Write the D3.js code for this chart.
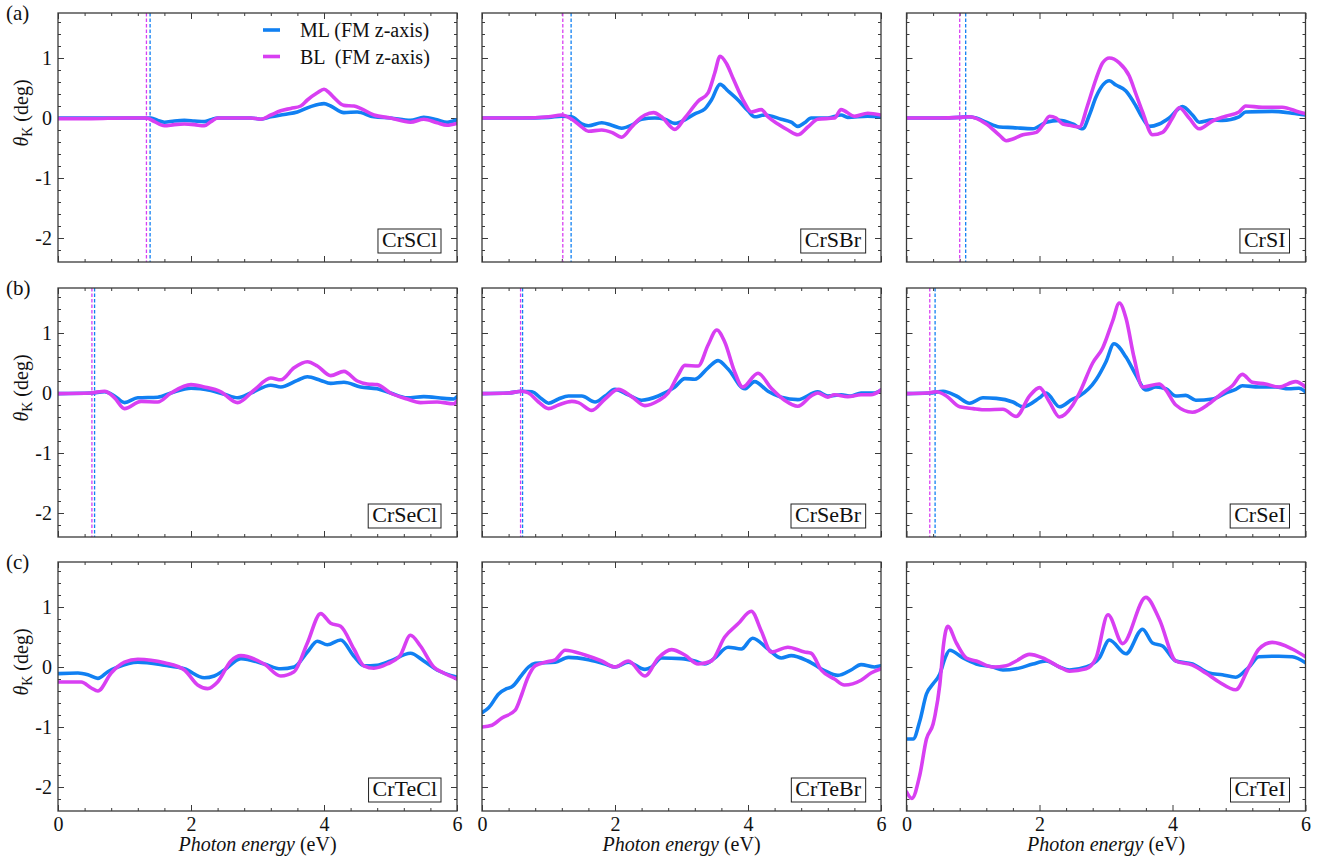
<!DOCTYPE html>
<html>
<head>
<meta charset="utf-8">
<title>Kerr rotation</title>
<script src="https://cdnjs.cloudflare.com/ajax/libs/d3/7.8.5/d3.min.js"></script>
<style>
    body { margin: 0; background: #ffffff; }
    #kerr-grid text { font-family: "Liberation Serif", "Times New Roman", serif; fill: #111; }
    .frame { fill: none; stroke: #3a3a3a; stroke-width: 1.3; }
    .axis path.domain { display: none; }
    .axis line { stroke: #3a3a3a; stroke-width: 1; }
    .axis text { font-size: 20px; }
    .kerr-line { fill: none; stroke-width: 3.6; stroke-linejoin: round; stroke-linecap: round; }
    .gap-line { stroke-width: 1.3; stroke-dasharray: 3.5,2; }
</style>
</head>
<body>
<div id="kerr-grid"></div>
<script>

// ====== Data: [photon energy (eV), theta_K (deg)] ======//
var compounds = ["CrSCl", "CrSBr", "CrSI", "CrSeCl", "CrSeBr", "CrSeI", "CrTeCl", "CrTeBr", "CrTeI"];
var rowLetters = ["(a)", "(b)", "(c)"];
var seriesNames = ["ML (FM z-axis)", "BL  (FM z-axis)"];
var xTickValues = [0, 2, 4, 6];
var yTickValues = [-2, -1, 0, 1];

// band-gap markers (dashed lines), null = none drawn
var mlGap = [1.385, 1.34, 0.89, 0.55, 0.61, 0.43, null, null, null];
var blGap = [1.33, 1.215, 0.80, 0.51, 0.58, 0.35, null, null, null];

var mlCrSCl = [[0,0],[0.5,0],[1.0,0],[1.3,0],[1.4,0],[1.5,-0.04],[1.6,-0.07],[1.75,-0.05],[1.9,-0.04],[2.05,-0.05],[2.2,-0.06],[2.3,-0.03],[2.4,0],[2.7,0],[2.9,0],[3.05,-0.02],[3.2,0.02],[3.4,0.06],[3.6,0.1],[3.8,0.19],[4.0,0.24],[4.1,0.2],[4.3,0.09],[4.5,0.1],[4.75,0.02],[5.0,0],[5.3,-0.04],[5.5,0.01],[5.7,-0.03],[5.85,-0.07],[6.0,-0.03]];
var blCrSCl = [[0,-0.01],[0.5,-0.01],[1.0,0],[1.33,0],[1.45,-0.06],[1.6,-0.13],[1.75,-0.11],[1.9,-0.1],[2.05,-0.11],[2.2,-0.13],[2.3,-0.06],[2.4,0],[2.7,0],[2.9,0],[3.05,-0.02],[3.2,0.05],[3.35,0.12],[3.5,0.16],[3.65,0.2],[3.75,0.3],[3.9,0.42],[4.0,0.48],[4.08,0.42],[4.15,0.34],[4.3,0.21],[4.45,0.2],[4.55,0.16],[4.75,0.05],[5.0,0],[5.3,-0.07],[5.5,-0.02],[5.7,-0.08],[5.85,-0.12],[6.0,-0.09]];

var mlCrSBr = [[0,0],[0.6,0],[1.0,0.01],[1.2,0.03],[1.35,0.02],[1.5,-0.1],[1.6,-0.13],[1.8,-0.08],[1.95,-0.12],[2.1,-0.17],[2.25,-0.12],[2.4,-0.02],[2.6,0],[2.75,-0.02],[2.9,-0.09],[3.05,-0.03],[3.2,0.07],[3.35,0.15],[3.45,0.3],[3.58,0.56],[3.7,0.45],[3.85,0.3],[4.0,0.12],[4.1,0.02],[4.25,0.05],[4.5,-0.02],[4.65,-0.07],[4.75,-0.14],[4.85,-0.08],[4.95,0],[5.2,0],[5.4,0.05],[5.5,0.01],[5.8,0.03],[6.0,0.02]];
var blCrSBr = [[0,0],[0.6,0],[1.0,0.02],[1.2,0.05],[1.35,-0.02],[1.5,-0.15],[1.6,-0.22],[1.8,-0.2],[1.95,-0.24],[2.1,-0.32],[2.25,-0.15],[2.35,-0.03],[2.45,0.05],[2.58,0.09],[2.7,0.02],[2.9,-0.19],[3.05,0],[3.25,0.28],[3.4,0.42],[3.5,0.75],[3.58,1.03],[3.68,0.9],[3.78,0.65],[3.95,0.25],[4.05,0.1],[4.2,0.14],[4.3,0.02],[4.45,-0.1],[4.6,-0.2],[4.75,-0.28],[4.9,-0.15],[5.05,-0.02],[5.3,0],[5.4,0.14],[5.6,0.03],[5.8,0.08],[6.0,0.05]];

var mlCrSI = [[0,0],[0.5,0],[0.8,0.01],[0.9,0.02],[1.05,0],[1.2,-0.07],[1.4,-0.15],[1.6,-0.16],[1.9,-0.18],[2.1,-0.07],[2.3,-0.04],[2.5,-0.1],[2.65,-0.18],[2.75,0.05],[2.85,0.35],[3.05,0.62],[3.15,0.55],[3.3,0.45],[3.45,0.2],[3.55,0],[3.65,-0.14],[3.8,-0.1],[3.95,0],[4.15,0.19],[4.3,0.05],[4.4,-0.07],[4.6,-0.03],[4.75,-0.04],[5.0,0.02],[5.1,0.1],[5.5,0.11],[5.8,0.08],[6.0,0.05]];
var blCrSI = [[0,0],[0.5,0],[0.8,0.01],[0.95,0.02],[1.2,-0.1],[1.4,-0.29],[1.5,-0.38],[1.6,-0.35],[1.75,-0.28],[1.95,-0.24],[2.05,-0.12],[2.15,0.03],[2.25,0],[2.35,-0.1],[2.45,-0.12],[2.6,-0.15],[2.72,0.2],[2.85,0.65],[2.95,0.92],[3.05,1.0],[3.2,0.92],[3.35,0.7],[3.45,0.4],[3.55,0.1],[3.7,-0.28],[3.85,-0.24],[4.0,0],[4.1,0.17],[4.25,0],[4.4,-0.18],[4.6,-0.05],[4.8,0.03],[5.0,0.1],[5.1,0.2],[5.35,0.18],[5.65,0.18],[5.9,0.1],[6.0,0.07]];

var mlCrSeCl = [[0,-0.01],[0.5,0],[0.7,0.02],[0.85,-0.05],[1.0,-0.16],[1.2,-0.08],[1.5,-0.07],[1.7,0],[2.0,0.08],[2.3,0.04],[2.5,-0.02],[2.7,-0.08],[2.9,0],[3.2,0.13],[3.35,0.1],[3.6,0.21],[3.75,0.27],[3.95,0.21],[4.1,0.16],[4.3,0.18],[4.55,0.1],[4.8,0.07],[5.0,0],[5.25,-0.08],[5.5,-0.06],[5.8,-0.09],[5.95,-0.1],[6.0,-0.06]];
var blCrSeCl = [[0,-0.01],[0.5,0],[0.7,0.03],[0.85,-0.08],[1.0,-0.26],[1.25,-0.14],[1.5,-0.15],[1.7,0],[2.0,0.14],[2.2,0.1],[2.45,0.02],[2.7,-0.16],[2.95,0.05],[3.2,0.25],[3.35,0.22],[3.55,0.42],[3.75,0.52],[3.9,0.45],[4.1,0.29],[4.3,0.36],[4.5,0.2],[4.65,0.15],[4.8,0.14],[5.0,0],[5.25,-0.1],[5.45,-0.16],[5.7,-0.15],[5.95,-0.18],[6.0,-0.13]];

var mlCrSeBr = [[0,-0.01],[0.4,0],[0.6,0.03],[0.75,0.02],[0.9,-0.1],[1.0,-0.17],[1.15,-0.1],[1.3,-0.05],[1.5,-0.05],[1.7,-0.15],[1.85,-0.05],[2.0,0.06],[2.2,-0.03],[2.4,-0.12],[2.65,-0.05],[2.9,0.1],[3.05,0.24],[3.2,0.23],[3.4,0.42],[3.55,0.54],[3.7,0.4],[3.95,0.07],[4.1,0.19],[4.3,0.03],[4.5,-0.07],[4.75,-0.11],[5.05,0.02],[5.2,-0.05],[5.4,-0.03],[5.55,-0.05],[5.7,0],[5.9,0],[6.0,0.05]];
var blCrSeBr = [[0,-0.01],[0.4,0],[0.6,0.03],[0.7,0],[0.85,-0.15],[1.0,-0.26],[1.15,-0.2],[1.35,-0.14],[1.45,-0.16],[1.65,-0.29],[1.85,-0.1],[2.05,0.06],[2.25,-0.06],[2.45,-0.21],[2.65,-0.13],[2.8,0],[2.95,0.3],[3.05,0.46],[3.25,0.45],[3.4,0.8],[3.53,1.05],[3.65,0.85],[3.8,0.35],[3.92,0.1],[4.15,0.33],[4.35,0.08],[4.55,-0.12],[4.75,-0.22],[4.95,-0.05],[5.05,0],[5.2,-0.07],[5.3,-0.03],[5.5,-0.06],[5.7,-0.03],[5.85,-0.03],[6.0,0.05]];

var mlCrSeI = [[0,-0.01],[0.35,0],[0.55,0.03],[0.75,-0.05],[0.95,-0.17],[1.15,-0.08],[1.35,-0.09],[1.6,-0.15],[1.75,-0.23],[2.0,-0.08],[2.1,0],[2.3,-0.23],[2.5,-0.1],[2.6,-0.05],[2.85,0.22],[3.0,0.52],[3.12,0.82],[3.3,0.6],[3.45,0.3],[3.6,0.05],[3.75,0.1],[3.9,0.07],[4.05,-0.05],[4.2,-0.04],[4.35,-0.12],[4.6,-0.1],[4.8,0],[4.95,0.06],[5.05,0.12],[5.3,0.1],[5.55,0.1],[5.75,0.07],[5.9,0.08],[6.0,0.02]];
var blCrSeI = [[0,-0.01],[0.3,0],[0.45,0.02],[0.6,-0.05],[0.8,-0.23],[1.0,-0.26],[1.2,-0.28],[1.45,-0.27],[1.65,-0.39],[1.85,-0.05],[2.0,0.09],[2.15,-0.15],[2.3,-0.4],[2.5,-0.2],[2.6,0],[2.8,0.5],[2.95,0.75],[3.1,1.2],[3.2,1.5],[3.3,1.25],[3.42,0.6],[3.55,0.1],[3.8,0.15],[3.9,0.05],[4.05,-0.2],[4.3,-0.32],[4.55,-0.18],[4.75,0],[4.9,0.12],[5.05,0.31],[5.2,0.18],[5.4,0.15],[5.6,0.1],[5.85,0.19],[6.0,0.1]];

var mlCrTeCl = [[0,-0.11],[0.3,-0.1],[0.45,-0.13],[0.6,-0.19],[0.75,-0.08],[0.9,0],[1.2,0.08],[1.6,0.03],[1.9,-0.03],[2.2,-0.18],[2.35,-0.15],[2.5,-0.05],[2.75,0.14],[3.1,0.05],[3.35,-0.03],[3.55,0],[3.75,0.25],[3.9,0.43],[4.05,0.37],[4.25,0.45],[4.45,0.18],[4.6,0.02],[4.8,0.03],[5.0,0.1],[5.3,0.23],[5.5,0.1],[5.7,-0.05],[6.0,-0.17]];
var blCrTeCl = [[0,-0.25],[0.35,-0.25],[0.5,-0.35],[0.6,-0.4],[0.8,-0.1],[1.0,0.08],[1.2,0.13],[1.6,0.07],[1.9,-0.05],[2.1,-0.3],[2.25,-0.36],[2.4,-0.25],[2.6,0.1],[2.75,0.19],[3.1,0.05],[3.35,-0.15],[3.55,-0.08],[3.75,0.4],[3.95,0.89],[4.1,0.73],[4.25,0.68],[4.45,0.3],[4.6,0.02],[4.75,-0.02],[4.95,0.05],[5.15,0.2],[5.3,0.53],[5.45,0.35],[5.65,0],[5.8,-0.1],[6.0,-0.2]];

var mlCrTeBr = [[0,-0.76],[0.1,-0.68],[0.25,-0.45],[0.37,-0.36],[0.45,-0.33],[0.6,-0.13],[0.7,0],[0.8,0.06],[1.1,0.08],[1.3,0.16],[1.6,0.12],[1.85,0.05],[2.0,0],[2.2,0.08],[2.45,-0.04],[2.55,0],[2.7,0.15],[3.0,0.14],[3.2,0.1],[3.35,0.05],[3.5,0.15],[3.7,0.33],[3.9,0.3],[4.07,0.48],[4.3,0.3],[4.5,0.15],[4.65,0.19],[4.9,0.1],[5.15,-0.06],[5.35,-0.14],[5.55,-0.05],[5.7,0.04],[5.9,0],[6.0,0.02]];
var blCrTeBr = [[0,-1.0],[0.15,-0.97],[0.3,-0.85],[0.5,-0.72],[0.6,-0.45],[0.68,-0.2],[0.8,0.02],[0.95,0.08],[1.1,0.12],[1.25,0.28],[1.55,0.2],[1.8,0.1],[2.0,0],[2.2,0.1],[2.45,-0.15],[2.65,0.15],[2.85,0.29],[3.05,0.2],[3.25,0.05],[3.45,0.1],[3.65,0.5],[3.85,0.72],[4.05,0.93],[4.2,0.6],[4.35,0.25],[4.6,0.33],[4.85,0.25],[4.95,0.23],[5.1,-0.05],[5.3,-0.2],[5.45,-0.3],[5.7,-0.22],[5.85,-0.1],[6.0,-0.03]];

var mlCrTeI = [[0,-1.2],[0.1,-1.2],[0.2,-0.9],[0.3,-0.45],[0.4,-0.28],[0.5,-0.12],[0.58,0.15],[0.65,0.28],[0.85,0.15],[1.05,0.05],[1.3,0],[1.45,-0.05],[1.65,-0.03],[1.9,0.05],[2.1,0.1],[2.3,0],[2.45,-0.05],[2.7,0],[2.9,0.15],[3.05,0.45],[3.3,0.22],[3.55,0.63],[3.7,0.4],[3.85,0.35],[4.05,0.1],[4.3,0.05],[4.55,-0.1],[4.75,-0.13],[4.95,-0.17],[5.15,0],[5.3,0.17],[5.6,0.18],[5.8,0.17],[6.0,0.07]];
var blCrTeI = [[0,-2.08],[0.08,-2.19],[0.2,-1.8],[0.3,-1.2],[0.4,-0.95],[0.43,-0.8],[0.5,-0.3],[0.56,0.4],[0.62,0.68],[0.75,0.4],[0.9,0.15],[1.05,0.1],[1.3,0],[1.5,0.02],[1.65,0.1],[1.85,0.21],[2.05,0.15],[2.3,0],[2.45,-0.07],[2.7,-0.03],[2.85,0.15],[3.03,0.87],[3.25,0.39],[3.6,1.16],[3.8,0.8],[4.05,0.1],[4.3,0.03],[4.5,-0.1],[4.7,-0.25],[4.95,-0.38],[5.15,0],[5.3,0.3],[5.5,0.41],[5.8,0.3],[6.0,0.17]];

var mlSeries = [mlCrSCl, mlCrSBr, mlCrSI, mlCrSeCl, mlCrSeBr, mlCrSeI, mlCrTeCl, mlCrTeBr, mlCrTeI];
var blSeries = [blCrSCl, blCrSBr, blCrSI, blCrSeCl, blCrSeBr, blCrSeI, blCrTeCl, blCrTeBr, blCrTeI];

var colors = { ml: "#1180f2", bl: "#d83ff2" };


/*
 * KerrPanelVis - Object constructor function
 * @param _svg      -- the svg selection to draw into
 * @param _index    -- panel number (0..8), row-major
 */

KerrPanelVis = function(_svg, _index){
    this.svg = _svg;
    this.index = _index;
    this.row = Math.floor(_index / 3);
    this.col = _index % 3;
    this.initVis();
}


/*
 * Initialize visualization (frame, axes, lines)
 */

KerrPanelVis.prototype.initVis = function(){
    var vis = this;

    var lefts = [58, 482, 906.5];
    var tops = [13, 288, 562];
    vis.width = 399;
    vis.height = 249;

    vis.g = vis.svg.append("g")
        .attr("transform", "translate(" + lefts[vis.col] + "," + tops[vis.row] + ")");

    // Scales
    vis.x = d3.scaleLinear()
        .domain([0, 6])
        .range([0, vis.width]);

    vis.y = d3.scaleLinear()
        .domain([-2.4, 1.75])
        .range([vis.height, 0]);

    var xMinor = d3.range(1, 15).map(function(i){ return i * 0.4; })
        .filter(function(v){ return Math.abs(v / 2 - Math.round(v / 2)) > 1e-6; });
    var yMinor = d3.range(-11, 9).map(function(i){ return i * 0.2; })
        .filter(function(v){ return Math.abs(v - Math.round(v)) > 1e-6; });

    //======= Ticks pointing inward on all four sides ======//
    var showX = vis.row === 2;
    var showY = vis.col === 0;
    var intFmt = function(d){ return String(d); };

    vis.addAxis(d3.axisBottom(vis.x).tickValues(xTickValues).tickSize(-6).tickPadding(6)
        .tickFormat(showX ? intFmt : ""), "translate(0," + vis.height + ")");
    vis.addAxis(d3.axisBottom(vis.x).tickValues(xMinor).tickSize(-3).tickFormat(""),
        "translate(0," + vis.height + ")");
    vis.addAxis(d3.axisTop(vis.x).tickValues(xTickValues).tickSize(-6).tickFormat(""), null);
    vis.addAxis(d3.axisTop(vis.x).tickValues(xMinor).tickSize(-3).tickFormat(""), null);

    vis.addAxis(d3.axisLeft(vis.y).tickValues(yTickValues).tickSize(-6).tickPadding(6)
        .tickFormat(showY ? intFmt : ""), null);
    vis.addAxis(d3.axisLeft(vis.y).tickValues(yMinor).tickSize(-3).tickFormat(""), null);
    vis.addAxis(d3.axisRight(vis.y).tickValues(yTickValues).tickSize(-6).tickFormat(""),
        "translate(" + vis.width + ",0)");
    vis.addAxis(d3.axisRight(vis.y).tickValues(yMinor).tickSize(-3).tickFormat(""),
        "translate(" + vis.width + ",0)");

    // clip so lines stay within the frame
    vis.g.append("clipPath")
        .attr("id", "clip-" + vis.index)
        .append("rect")
        .attr("width", vis.width)
        .attr("height", vis.height);

    vis.plot = vis.g.append("g")
        .attr("clip-path", "url(#clip-" + vis.index + ")");

    //======= Dashed gap markers ======//
    [[blGap[vis.index], colors.bl], [mlGap[vis.index], colors.ml]].forEach(function(m){
        if (m[0] === null) return;
        vis.plot.append("line")
            .attr("class", "gap-line")
            .attr("x1", vis.x(m[0]))
            .attr("x2", vis.x(m[0]))
            .attr("y1", 0)
            .attr("y2", vis.height)
            .attr("stroke", m[1]);
    });

    //======= Define path ======//
    vis.valueLine = d3.line()
        .x(function(d){ return vis.x(d[0]); })
        .y(function(d){ return vis.y(d[1]); })
        .curve(d3.curveMonotoneX);

    vis.plot.append("path")
        .datum(mlSeries[vis.index])
        .attr("class", "kerr-line")
        .attr("stroke", colors.ml)
        .attr("d", vis.valueLine);

    vis.plot.append("path")
        .datum(blSeries[vis.index])
        .attr("class", "kerr-line")
        .attr("stroke", colors.bl)
        .attr("d", vis.valueLine);

    // frame
    vis.g.append("rect")
        .attr("class", "frame")
        .attr("width", vis.width)
        .attr("height", vis.height);

    vis.addLabels();
}


/*
 * Helper: append one axis group
 */

KerrPanelVis.prototype.addAxis = function(axis, transform){
    var vis = this;
    var a = vis.g.append("g").attr("class", "axis");
    if (transform) a.attr("transform", transform);
    a.call(axis);
}


/*
 * Compound box, axis titles, row letters, legend
 */

KerrPanelVis.prototype.addLabels = function(){
    var vis = this;

    // compound name in a box, bottom right
    var label = vis.g.append("text")
        .attr("x", vis.width - 20)
        .attr("y", vis.height - 15)
        .attr("text-anchor", "end")
        .style("font-size", "22px")
        .text(compounds[vis.index]);
    var bb = label.node().getBBox();
    vis.g.append("rect")
        .attr("x", bb.x - 4)
        .attr("y", vis.height - 33)
        .attr("width", bb.width + 8)
        .attr("height", 24)
        .attr("fill", "#fff")
        .attr("stroke", "#222")
        .attr("stroke-width", 1);
    label.raise();

    if (vis.col === 0){
        // row letter
        vis.g.append("text")
            .attr("x", -52)
            .attr("y", 7)
            .style("font-size", "21px")
            .text(rowLetters[vis.row]);

        // y axis title: theta_K (deg)
        var yt = vis.g.append("text")
            .attr("transform", "translate(-30," + 100 + ") rotate(-90)")
            .attr("text-anchor", "middle")
            .style("font-size", "20px");
        yt.append("tspan").style("font-style", "italic").text("\u03B8");
        yt.append("tspan").attr("dy", 4).style("font-size", "14px").text("K");
        yt.append("tspan").attr("dy", -4).text(" (deg)");
    }

    if (vis.row === 2){
        var xt = vis.g.append("text")
            .attr("x", vis.width / 2)
            .attr("y", vis.height + 40)
            .attr("text-anchor", "middle")
            .style("font-size", "20px");
        xt.append("tspan").style("font-style", "italic").text("Photon energy");
        xt.append("tspan").text(" (eV)");
    }

    if (vis.index === 0){
        var legend = vis.g.append("g").attr("class", "legend");
        seriesNames.forEach(function(name, i){
            var yy = 17 + i * 26.5;
            legend.append("line")
                .attr("x1", 205).attr("x2", 222)
                .attr("y1", yy).attr("y2", yy)
                .attr("stroke", i === 0 ? colors.ml : colors.bl)
                .attr("stroke-width", 3.6);
            legend.append("text")
                .attr("x", 242)
                .attr("y", yy + 7)
                .style("font-size", "20px")
                .style("white-space", "pre")
                .text(name);
        });
    }
}


// ====== Draw all nine panels ======//
var svg = d3.select("#kerr-grid").append("svg")
    .attr("width", 1332)
    .attr("height", 863);

svg.append("rect").attr("width", 1332).attr("height", 863).attr("fill", "#fff");

var panels = compounds.map(function(c, i){ return new KerrPanelVis(svg, i); });

</script>
</body>
</html>
